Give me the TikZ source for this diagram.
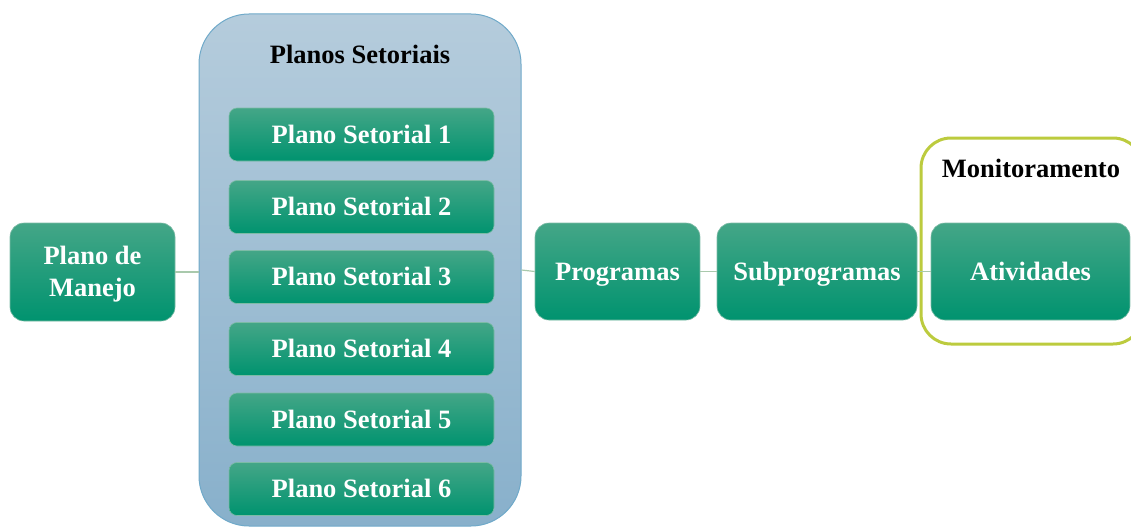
\documentclass[tikz,border=0pt]{standalone}
\usepackage{fontspec}
\setmainfont{Liberation Serif}
\begin{document}
\begin{tikzpicture}[x=1pt,y=-1pt,
  bigfont/.style={font=\fontsize{26.5}{32}\selectfont\bfseries, text height=17.5pt, text depth=0pt},
  greenbox/.style={rounded corners=14pt, top color=topgreen, bottom color=botgreen, draw=edgegreen, line width=0.6pt, inner sep=0pt, text=white, bigfont, align=center},
  setorbox/.style={greenbox, rounded corners=8pt, minimum width=265pt, minimum height=53pt},
  titletext/.style={bigfont, inner sep=0pt},
  link/.style={draw=linkgreen, line width=1.2pt}
]
\definecolor{topgreen}{HTML}{44A687}
\definecolor{botgreen}{HTML}{00936F}
\definecolor{edgegreen}{HTML}{7DBBA6}
\definecolor{linkgreen}{HTML}{A9C9AC}
\definecolor{conttop}{HTML}{B5CCDC}
\definecolor{contbot}{HTML}{88B0CB}
\definecolor{contedge}{HTML}{6FA9C9}
\definecolor{monedge}{HTML}{BCCB3E}
\useasboundingbox (0,0) rectangle (1131,527);
\clip (0,0) rectangle (1131,527);
% container
\node[draw=contedge, line width=1pt, rounded corners=50pt, top color=conttop, bottom color=contbot, minimum width=322pt, minimum height=512pt, inner sep=0pt] (cont) at (360,270) {};
\node[titletext] (ptitle) at (360,55) {Planos Setoriais};
\node[setorbox] (s1) at (361.5,134.5) {Plano Setorial 1};
\node[setorbox] (s2) at (361.5,207) {Plano Setorial 2};
\node[setorbox] (s3) at (361.5,277) {Plano Setorial 3};
\node[setorbox] (s4) at (361.5,349) {Plano Setorial 4};
\node[setorbox] (s5) at (361.5,419.5) {Plano Setorial 5};
\node[setorbox] (s6) at (361.5,489) {Plano Setorial 6};
% monitoring frame
\node[draw=monedge, line width=3pt, rounded corners=30pt, minimum width=222pt, minimum height=206pt, inner sep=0pt] (mon) at (1032,241) {};
\node[titletext] (mtitle) at (1031,169) {Monitoramento};
% boxes
\node[greenbox, text height=49.5pt, minimum width=165pt, minimum height=98pt] (pm) at (92.5,272) {Plano de\\Manejo};
\node[greenbox, minimum width=165pt, minimum height=97pt] (prog) at (617.5,271.5) {Programas};
\node[greenbox, minimum width=200pt, minimum height=97pt] (sub) at (817,271.5) {Subprogramas};
\node[greenbox, minimum width=199pt, minimum height=97pt] (ativ) at (1030.5,271.5) {Atividades};
% links
\draw[link] (pm.east) -- (pm.east -| cont.west);
\draw[link] (cont.east) -- (prog.west);
\draw[link] (prog.east) -- (sub.west);
\draw[link] (sub.east) -- (ativ.west);
\end{tikzpicture}
\end{document}
